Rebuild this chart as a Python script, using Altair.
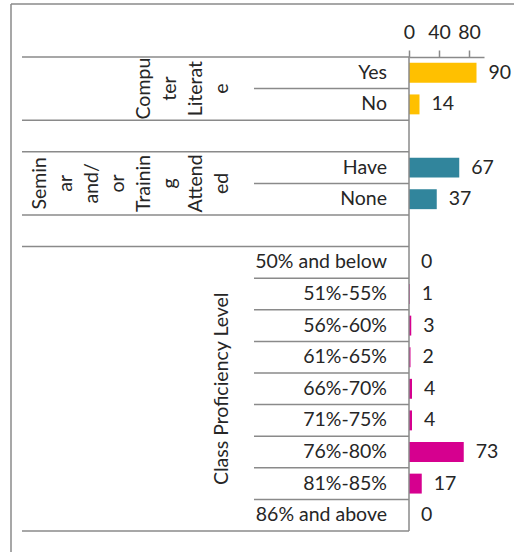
import altair as alt
import pandas as pd

# ---- data ----
computer_cats = ["Yes", "No"]
computer_vals = [90, 14]
seminar_cats = ["Have", "None"]
seminar_vals = [67, 37]
class_cats = ["50% and below", "51%-55%", "56%-60%", "61%-65%", "66%-70%",
              "71%-75%", "76%-80%", "81%-85%", "86% and above"]
class_vals = [0, 1, 3, 2, 4, 4, 73, 17, 0]
group_names = ["Computer Literate", "Seminar and/or Training Attended", "Class Proficiency Level"]
group_label_lines = [["Compu", "ter", "Literat", "e"],
                     ["Semin", "ar", "and/", "or", "Trainin", "g", "Attend", "ed"],
                     ["Class Proficiency Level"]]
group_colors = ["#FFC000", "#31859C", "#D6008F"]
x_ticks = [0, 40, 80]

FONT = "Lato"
FS = 19.5
GRAY = "#8a8a8a"
TXT = "#262626"
LH = 26

groups = [(computer_cats, computer_vals), (seminar_cats, seminar_vals), (class_cats, class_vals)]
bar_rows, label_rows, long_bounds, short_bounds = [], [], [], []
r = 0
for gi, (cats, vals) in enumerate(groups):
    start = r
    long_bounds.append(start)
    for j, (c, v) in enumerate(zip(cats, vals)):
        bar_rows.append(dict(group=group_names[gi], cat=c, value=v, row=r))
        if j > 0:
            short_bounds.append(r)
        r += 1
    label_rows.append(dict(group=group_names[gi], text="\n".join(group_label_lines[gi]),
                           mid=(start + r) / 2, n=len(group_label_lines[gi])))
    long_bounds.append(r)
    if gi < len(groups) - 1:
        r += 1
n_rows = r
long_bounds = sorted(set(long_bounds))

bars_df = pd.DataFrame(bar_rows)
long_df = pd.DataFrame({"b": long_bounds})
short_df = pd.DataFrame({"b": short_bounds})

xscale = alt.Scale(domain=[0, 100], nice=False, zero=True)
yscale = alt.Scale(domain=[0, n_rows], reverse=True, nice=False, zero=False)
xaxis = alt.Axis(orient="top", values=x_ticks, title=None, grid=False,
                 domainColor=GRAY, domainWidth=1.5, tickColor=GRAY, tickWidth=1.5,
                 tickSize=7, labelFont=FONT, labelFontSize=FS, labelColor=TXT,
                 labelPadding=8, labelFlush=False, labelOverlap=False)

base = alt.Chart(bars_df).transform_calculate(
    zero="0",
    y0="datum.row + 0.185",
    y1="datum.row + 0.815",
    ymid="datum.row + 0.5",
)

bars = base.mark_rect().encode(
    x=alt.X("zero:Q", scale=xscale, axis=xaxis),
    x2="value:Q",
    y=alt.Y("y0:Q", scale=yscale, axis=None),
    y2="y1:Q",
    color=alt.Color("group:N", scale=alt.Scale(domain=group_names, range=group_colors), legend=None),
)

values = base.mark_text(align="left", baseline="middle", dx=12, font=FONT, fontSize=FS, color=TXT).encode(
    x=alt.X("value:Q", scale=xscale, axis=xaxis),
    y=alt.Y("ymid:Q", scale=yscale, axis=None),
    text="value:Q",
)

cats = base.mark_text(align="right", baseline="middle", font=FONT, fontSize=FS, color=TXT).encode(
    x=alt.value(-22),
    y=alt.Y("ymid:Q", scale=yscale, axis=None),
    text="cat:N",
)

glabel_layers = []
for row in label_rows:
    df = pd.DataFrame([row])
    glabel_layers.append(
        alt.Chart(df).mark_text(
            angle=270, align="center", baseline="bottom", lineBreak="\n", lineHeight=LH,
            font=FONT, fontSize=FS, color=TXT,
        ).encode(
            x=alt.value(-177 - (row["n"] - 1) * LH),
            y=alt.Y("mid:Q", scale=yscale, axis=None),
            text="text:N",
        )
    )

long_rules = alt.Chart(long_df).mark_rule(color=GRAY, strokeWidth=1.5).encode(
    x=alt.value(-387), x2=alt.value(0),
    y=alt.Y("b:Q", scale=yscale, axis=None),
)
short_rules = alt.Chart(short_df).mark_rule(color=GRAY, strokeWidth=1.5).encode(
    x=alt.value(-155), x2=alt.value(0),
    y=alt.Y("b:Q", scale=yscale, axis=None),
)
vaxis = alt.Chart(pd.DataFrame({"a": [0], "b": [n_rows]})).mark_rule(color=GRAY, strokeWidth=1.5).encode(
    x=alt.value(0),
    y=alt.Y("a:Q", scale=yscale, axis=None),
    y2="b:Q",
)
border_v = alt.Chart(pd.DataFrame({"d": [0]})).mark_rule(color=GRAY, strokeWidth=1.5).encode(
    x=alt.value(-398), y=alt.value(-53), y2=alt.value(500),
)
border_h = alt.Chart(pd.DataFrame({"d": [0]})).mark_rule(color=GRAY, strokeWidth=1.5).encode(
    x=alt.value(-398), x2=alt.value(110), y=alt.value(-53),
)

chart = alt.layer(
    border_v, border_h, long_rules, short_rules, bars, vaxis, values, cats, *glabel_layers
).properties(
    width=75, height=474,
    autosize=alt.AutoSizeParams(type="none"),
    padding={"left": 409, "top": 57, "right": 30, "bottom": 21},
    background="white",
).configure_view(stroke=None)

chart.save("out.html", embed_options={"renderer": "svg", "actions": False})
